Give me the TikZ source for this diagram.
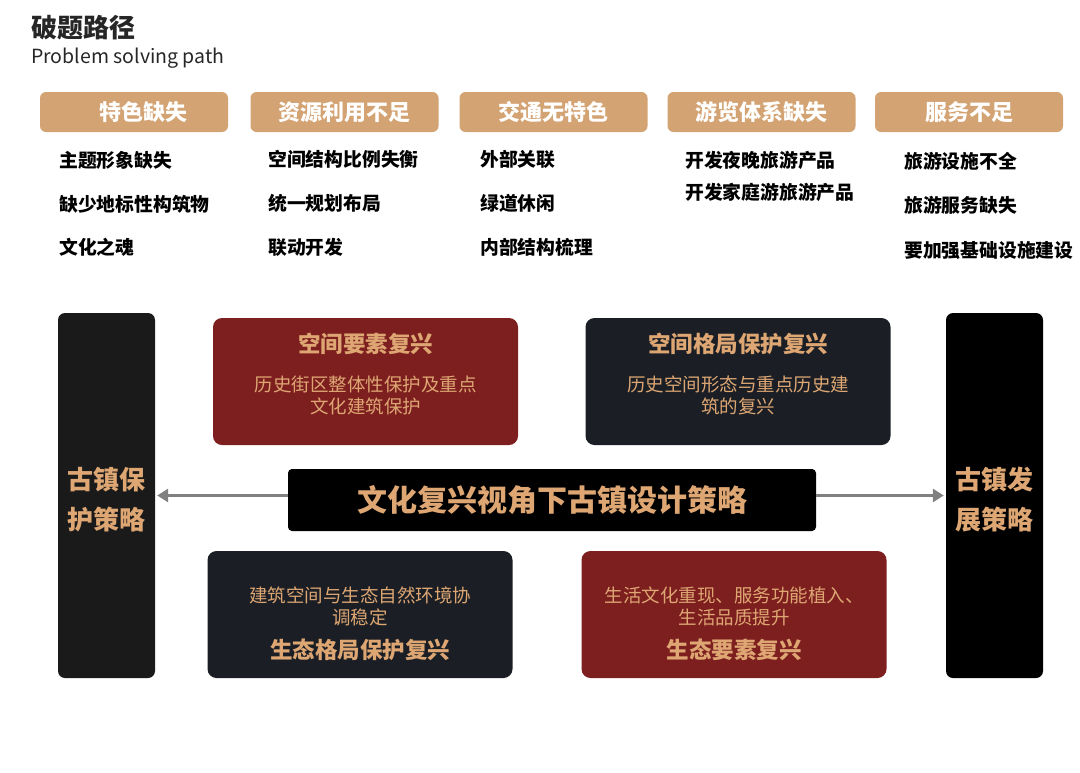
\documentclass[tikz,border=0pt]{standalone}
\usepackage{fontspec}
\setmainfont{Noto Sans CJK SC}
\usetikzlibrary{arrows.meta,positioning}
\definecolor{tanfill}{HTML}{D4A373}
\definecolor{tantext}{HTML}{DDA673}
\definecolor{redbox}{HTML}{7E1F1F}
\definecolor{darkbox}{HTML}{1B1F25}
\definecolor{sidebox}{HTML}{1A1A1A}
\definecolor{arrowgray}{HTML}{808080}
\begin{document}
\begin{tikzpicture}[x=1pt, y=-1pt,
  header/.style={fill=tanfill, rounded corners=6pt, minimum width=188pt, minimum height=40pt,
    text=white, font=\fontsize{22}{26}\selectfont\bfseries, inner sep=0pt},
  item/.style={anchor=west, inner sep=0pt, font=\fontsize{18.8}{22}\selectfont\bfseries},
  panel/.style={rounded corners=9pt, minimum width=305pt, minimum height=127pt, inner sep=0pt},
  side/.style={rounded corners=7pt, minimum width=97pt, minimum height=365pt, inner sep=0pt},
  sidetext/.style={text=tantext, align=center, inner sep=0pt, font=\fontsize{26}{40}\selectfont\bfseries},
  ptitle/.style={text=tantext, inner sep=0pt, font=\fontsize{22.5}{26}\selectfont\bfseries},
  ptext/.style={text=tantext, inner sep=0pt, align=center, font=\fontsize{18.5}{22}\selectfont},
  link/.style={draw=arrowgray, line width=3pt, -{Triangle[length=11pt,width=13pt]}, shorten >=2pt}]
  \useasboundingbox (0,0) rectangle (1080,772);

  % 1. 标题
  \node[anchor=west, inner sep=0pt, text=black!85, font=\fontsize{26}{30}\selectfont\bfseries] (title) at (31,28) {破题路径};
  \node[anchor=west, inner sep=0pt, text=black!85, font=\fontsize{19.5}{22}\selectfont] (subtitle) at (31,58) {Problem solving path};

  % 2. 问题分类
  \node[header] (h1) at (134,112) {\hspace{18pt}特色缺失};
  \node[header] (h2) at (344.5,112) {资源利用不足};
  \node[header] (h3) at (553.5,112) {交通无特色};
  \node[header] (h4) at (761.5,112) {游览体系缺失};
  \node[header] (h5) at (969,112) {服务不足};

  % 3. 问题条目
  \node[item] (a1) at (59,160) {主题形象缺失};
  \node[item] (a2) at (59,204) {缺少地标性构筑物};
  \node[item] (a3) at (59,247) {文化之魂};
  \node[item] (b1) at (268,159) {空间结构比例失衡};
  \node[item] (b2) at (268,203) {统一规划布局};
  \node[item] (b3) at (268,247) {联动开发};
  \node[item] (c1) at (480,159) {外部关联};
  \node[item] (c2) at (480,203) {绿道休闲};
  \node[item] (c3) at (480,247) {内部结构梳理};
  \node[item] (d1) at (685,160) {开发夜晚旅游产品};
  \node[item] (d2) at (685,192) {开发家庭游旅游产品};
  \node[item] (e1) at (904,161) {旅游设施不全};
  \node[item] (e2) at (904,205) {旅游服务缺失};
  \node[item] (e3) at (904,250) {要加强基础设施建设};

  % 4. 两侧策略
  \node[side, fill=sidebox] (protect) at (106.5,495.5) {};
  \node[sidetext] (protect-txt) at (106.5,500) {古镇保\\护策略};
  \node[side, fill=black] (develop) at (994.5,495.5) {};
  \node[sidetext] (develop-txt) at (994.5,500) {古镇发\\展策略};

  % 5. 四个复兴板块
  \node[panel, fill=redbox] (sp1) at (365.5,381.5) {};
  \node[ptitle] (sp1-title) at (365.5,344) {空间要素复兴};
  \node[ptext] (sp1-txt) at (365.5,395) {历史街区整体性保护及重点\\文化建筑保护};

  \node[panel, fill=darkbox] (sp2) at (738,381.5) {};
  \node[ptitle] (sp2-title) at (738,344) {空间格局保护复兴};
  \node[ptext] (sp2-txt) at (738,395) {历史空间形态与重点历史建\\筑的复兴};

  \node[panel, fill=darkbox] (ec1) at (360,614.5) {};
  \node[ptext] (ec1-txt) at (360,606) {建筑空间与生态自然环境协\\调稳定};
  \node[ptitle] (ec1-title) at (360,650) {生态格局保护复兴};

  \node[panel, fill=redbox] (ec2) at (734,614.5) {};
  \node[ptext] (ec2-txt) at (734,606) {生活文化重现、服务功能植入、\\生活品质提升};
  \node[ptitle] (ec2-title) at (734,650) {生态要素复兴};

  % 6. 核心
  \node[fill=black, rounded corners=4pt, minimum width=528pt, minimum height=62pt, inner sep=0pt,
    text=tantext, font=\fontsize{30}{34}\selectfont\bfseries] (core) at (552,500) {文化复兴视角下古镇设计策略};

  % 7. 箭头
  \draw[link] (core.west |- protect.east) -- (protect.east);
  \draw[link] (core.east |- develop.west) -- (develop.west);
\end{tikzpicture}
\end{document}
